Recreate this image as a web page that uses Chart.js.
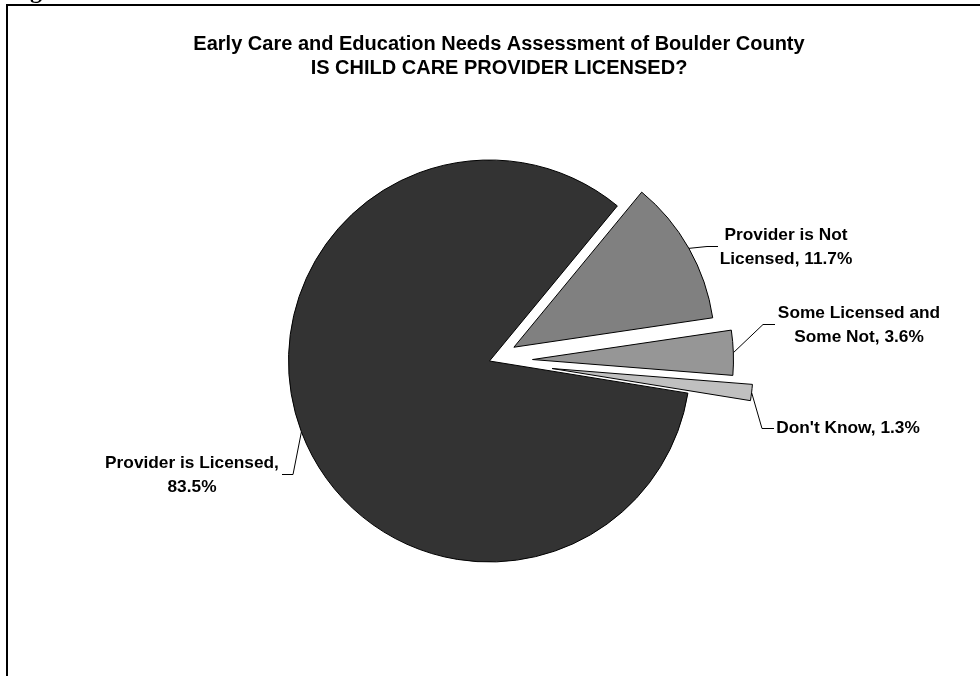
<!DOCTYPE html>
<html lang="en">
<head>
<meta charset="UTF-8">
<title>Is Child Care Provider Licensed?</title>
<script src="https://cdn.jsdelivr.net/npm/chart.js"></script>
<style>
  body { margin: 0; background: #fff; }
  #wrap { width: 980px; height: 676px; }
</style>
</head>
<body>
<div id="wrap"><canvas id="pieChart" width="980" height="676"></canvas></div>
<script>
// data, in the order Excel drew the slices (clockwise from the rotation)
const categories = ['Provider is Not Licensed', 'Some Licensed and Some Not', "Don't Know", 'Provider is Licensed'];
const percents = [11.7, 3.6, 1.3, 83.5];
const titleLines = ['Early Care and Education Needs Assessment of Boulder County', 'IS CHILD CARE PROVIDER LICENSED?'];

// styling
const sliceColors = ['#808080', '#969696', '#c0c0c0', '#333333'];
const explode = [28, 43, 63, 0];
const labelSpots = [
  { x: 786, y: 235, wrap: 150, elbow: [707, 246], end: [718, 246] },
  { x: 859, y: 313, wrap: 170, elbow: [763, 324], end: [775, 324] },
  { x: 848, y: 428, wrap: 250, elbow: [762, 428], end: [774, 428] },
  { x: 192, y: 463, wrap: 185, elbow: [293, 474], end: [282, 474] }
];

function wrapText(ctx, text, maxW) {
  const words = text.split(' ');
  const lines = [];
  let cur = '';
  words.forEach(w => {
    const test = cur ? cur + ' ' + w : w;
    if (cur && ctx.measureText(test).width > maxW) {
      lines.push(cur);
      cur = w;
    } else {
      cur = test;
    }
  });
  if (cur) lines.push(cur);
  return lines;
}

// pull slices out along their mid angle (Chart.js offset also grows the radius)
const explodePlugin = {
  id: 'explode',
  afterDatasetUpdate(chart, args) {
    const meta = chart.getDatasetMeta(args.index);
    meta.data.forEach((arc, i) => {
      const mid = (arc.startAngle + arc.endAngle) / 2;
      arc.x += Math.cos(mid) * explode[i];
      arc.y += Math.sin(mid) * explode[i];
    });
  }
};

const annotatePlugin = {
  id: 'annotate',
  afterDraw(chart) {
    const ctx = chart.ctx;
    ctx.save();

    // frame
    ctx.strokeStyle = '#000';
    ctx.lineWidth = 2;
    ctx.beginPath();
    ctx.moveTo(7, 676);
    ctx.lineTo(7, 5);
    ctx.lineTo(980, 5);
    ctx.stroke();

    // bit of the caption above the frame
    ctx.fillStyle = '#000';
    ctx.font = 'bold 24px "Liberation Serif"';
    ctx.textAlign = 'left';
    ctx.textBaseline = 'alphabetic';
    ctx.fillText('g', 30, -2);

    // title
    ctx.font = 'bold 20px "Liberation Sans", Arial, sans-serif';
    ctx.textAlign = 'center';
    ctx.textBaseline = 'middle';
    titleLines.forEach((t, i) => ctx.fillText(t, 499, 44 + i * 24));

    // labels with leader lines
    const meta = chart.getDatasetMeta(0);
    ctx.font = 'bold 17.3px "Liberation Sans", Arial, sans-serif';
    ctx.lineWidth = 1;
    meta.data.forEach((arc, i) => {
      const spot = labelSpots[i];
      const mid = (arc.startAngle + arc.endAngle) / 2;
      const ax = arc.x + Math.cos(mid) * arc.outerRadius;
      const ay = arc.y + Math.sin(mid) * arc.outerRadius;
      ctx.beginPath();
      ctx.moveTo(ax, ay);
      ctx.lineTo(spot.elbow[0], spot.elbow[1] + 0.5);
      ctx.lineTo(spot.end[0], spot.end[1] + 0.5);
      ctx.stroke();

      const text = categories[i] + ', ' + percents[i].toFixed(1) + '%';
      const lines = wrapText(ctx, text, spot.wrap);
      lines.forEach((ln, j) => ctx.fillText(ln, spot.x, spot.y + j * 24));
    });

    ctx.restore();
  }
};

const ctx = document.getElementById('pieChart').getContext('2d');
new Chart(ctx, {
  type: 'pie',
  data: {
    labels: categories,
    datasets: [{
      data: percents,
      backgroundColor: sliceColors,
      borderColor: '#000',
      borderWidth: 1,
      borderJoinStyle: 'miter'
    }]
  },
  options: {
    responsive: false,
    animation: false,
    events: [],
    rotation: 39.5,
    radius: 201,
    layout: { padding: { left: 240, right: 241, top: 111, bottom: 65 } },
    plugins: {
      legend: { display: false },
      tooltip: { enabled: false },
      title: { display: false }
    }
  },
  plugins: [explodePlugin, annotatePlugin]
});
</script>
</body>
</html>
